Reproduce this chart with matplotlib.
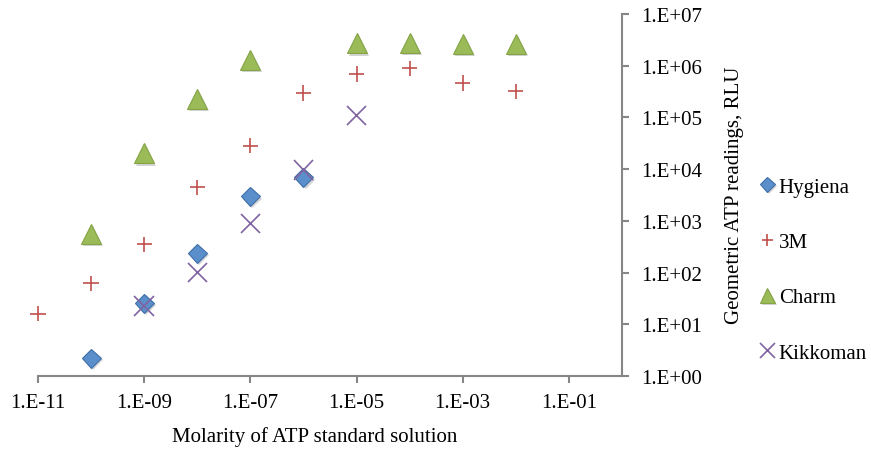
import matplotlib
matplotlib.use("Agg")
import matplotlib.pyplot as plt
import matplotlib.patheffects as pe
from matplotlib.ticker import FixedLocator, NullLocator

# Данные
hygiena_x = [1e-10, 1e-9, 1e-8, 1e-7, 1e-6]
hygiena_y = [2.2, 25.5, 237, 2960, 6900]

m3_x = [1e-11, 1e-10, 1e-9, 1e-8, 1e-7, 1e-6, 1e-5, 1e-4, 1e-3, 1e-2]
m3_y = [16, 62, 354, 4430, 28200, 296000, 690000, 890000, 462000, 319000]

charm_x = [1e-10, 1e-9, 1e-8, 1e-7, 1e-5, 1e-4, 1e-3, 1e-2]
charm_y = [552, 20100, 223000, 1.30e6, 2.69e6, 2.75e6, 2.65e6, 2.68e6]

kikkoman_x = [1e-9, 1e-8, 1e-7, 1e-6, 1e-5]
kikkoman_y = [22.6, 100, 900, 9700, 108000]

x_ticks = [1e-11, 1e-9, 1e-7, 1e-5, 1e-3, 1e-1]
x_tick_labels = ["1.E-11", "1.E-09", "1.E-07", "1.E-05", "1.E-03", "1.E-01"]
y_ticks = [1e0, 1e1, 1e2, 1e3, 1e4, 1e5, 1e6, 1e7]
y_tick_labels = ["1.E+00", "1.E+01", "1.E+02", "1.E+03",
                 "1.E+04", "1.E+05", "1.E+06", "1.E+07"]

plt.rcParams['font.family'] = ['Liberation Serif', 'DejaVu Serif']
axis_color = '#868686'

fig = plt.figure(figsize=(8.71, 4.52), dpi=100)
ax = fig.add_axes([38 / 871, 1 - 377 / 452, 584 / 871, 362 / 452])

shadow = [pe.SimplePatchShadow(offset=(1.5, -1.5), shadow_rgbFace='#555555', alpha=0.25),
          pe.Normal()]

ax.plot(hygiena_x, hygiena_y, linestyle='none', marker='D', ms=9.7,
        mfc='#5B8FCB', mec='#3F6FA8', mew=0.8, label='Hygiena',
        path_effects=shadow, clip_on=False)
ax.plot(m3_x, m3_y, linestyle='none', marker='+', ms=11,
        mec='#C0504D', mew=1.2, label='3M', path_effects=shadow, clip_on=False)
ax.plot(charm_x, charm_y, linestyle='none', marker='^', ms=14.4,
        mfc='#9BBB59', mec='#84A445', mew=0.8, label='Charm',
        path_effects=shadow, clip_on=False)
ax.plot(kikkoman_x, kikkoman_y, linestyle='none', marker='x', ms=14,
        mec='#8064A2', mew=1.2, label='Kikkoman', path_effects=shadow, clip_on=False)

ax.set_xscale('log')
ax.set_yscale('log')
ax.set_xlim(1e-11, 1)
ax.set_ylim(1, 1e7)

ax.xaxis.set_major_locator(FixedLocator(x_ticks))
ax.xaxis.set_minor_locator(NullLocator())
ax.set_xticklabels(x_tick_labels)
ax.yaxis.set_major_locator(FixedLocator(y_ticks))
ax.yaxis.set_minor_locator(NullLocator())
ax.set_yticklabels(y_tick_labels)

# Ось Y справа
ax.yaxis.tick_right()
ax.yaxis.set_label_position('right')
for side in ['top', 'left']:
    ax.spines[side].set_visible(False)
for side in ['bottom', 'right']:
    ax.spines[side].set_color(axis_color)
    ax.spines[side].set_linewidth(1.5)

ax.tick_params(axis='both', which='major', direction='out', length=5,
               width=1.5, color=axis_color, labelsize=15, labelcolor='black')
ax.tick_params(axis='x', pad=7)
ax.tick_params(axis='y', pad=9)

ax.set_xlabel('Molarity of ATP standard solution', fontsize=15)
ax.xaxis.set_label_coords(0.474, -0.138)
ax.set_ylabel('Geometric ATP readings, RLU', fontsize=15, rotation=90)
ax.yaxis.set_label_coords(1.176, 0.503)

leg = fig.legend(loc='center left', bbox_to_anchor=(758 / 871, 1 - 271 / 452),
                 frameon=False, fontsize=15, handlelength=0.9, handletextpad=0.1,
                 labelspacing=1.72, markerscale=0.75, borderpad=0, borderaxespad=0)

fig.savefig('out.png', dpi=100)
